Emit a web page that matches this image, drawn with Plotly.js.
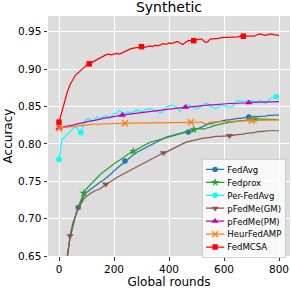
<!DOCTYPE html>
<html><head><meta charset="utf-8">
<script src="https://cdn.plot.ly/plotly-3.0.1.min.js"></script>
<style>html,body{margin:0;padding:0;background:#fff;} #chart{width:291px;height:289px;}</style>
</head><body><div id="chart"></div>
<script>
const rounds = [0,10,20,30,40,50,60,70,80,90,
100,110,120,130,140,150,160,170,180,190,
200,210,220,230,240,250,260,270,280,290,
300,310,320,330,340,350,360,370,380,390,
400,410,420,430,440,450,460,470,480,490,
500,510,520,530,540,550,560,570,580,590,
600,610,620,630,640,650,660,670,680,690,
700,710,720,730,740,750,760,770,780,790,
800];

const fedavg = [null,null,0.615,0.650,0.674,0.690,0.704,0.715,0.723,0.730,
0.735,0.738,0.741,0.743,0.746,0.749,0.751,0.754,0.756,0.760,
0.764,0.767,0.771,0.774,0.777,0.780,0.783,0.786,0.788,0.790,
0.792,0.794,0.796,0.798,0.800,0.802,0.804,0.806,0.808,0.809,
0.810,0.811,0.812,0.813,0.814,0.815,0.816,0.816,0.817,0.818,
0.820,0.821,0.823,0.825,0.826,0.827,0.828,0.829,0.829,0.830,
0.831,0.832,0.832,0.833,0.833,0.834,0.834,0.835,0.835,0.836,
0.836,0.836,0.836,0.837,0.837,0.837,0.838,0.838,0.838,0.8385,
0.8385];

const fedprox = [null,null,0.615,0.650,0.674,0.690,0.704,0.716,0.725,0.734,
0.740,0.744,0.748,0.752,0.756,0.759,0.762,0.765,0.768,0.771,
0.774,0.776,0.778,0.780,0.783,0.786,0.788,0.790,0.792,0.795,
0.797,0.799,0.801,0.802,0.803,0.804,0.805,0.806,0.808,0.809,
0.810,0.811,0.812,0.813,0.814,0.815,0.816,0.817,0.818,0.819,
0.8195,0.820,0.820,0.820,0.8215,0.822,0.824,0.825,0.826,0.827,
0.828,0.828,0.829,0.829,0.830,0.830,0.831,0.831,0.832,0.832,
0.832,0.833,0.833,0.833,0.833,0.833,0.833,0.833,0.833,0.8325,
0.8325];

const perfedavg = [0.779,0.805,0.809,0.813,0.816,0.820,0.823,0.819,0.815,0.828,
0.833,0.834,0.830,0.833,0.836,0.834,0.836,0.838,0.834,0.837,
0.840,0.841,0.845,0.842,0.841,0.843,0.841,0.843,0.845,0.844,
0.843,0.845,0.846,0.847,0.846,0.845,0.843,0.841,0.846,0.849,
0.851,0.852,0.850,0.849,0.843,0.849,0.851,0.852,0.850,0.849,
0.846,0.849,0.852,0.854,0.854,0.850,0.849,0.847,0.850,0.852,
0.851,0.850,0.849,0.850,0.854,0.858,0.857,0.857,0.856,0.857,
0.858,0.857,0.856,0.858,0.857,0.854,0.857,0.861,0.862,0.863,
0.864];

const pfedmeGM = [null,null,0.615,0.650,0.677,0.694,0.705,0.713,0.720,0.726,
0.730,0.733,0.735,0.737,0.738,0.740,0.743,0.746,0.748,0.750,
0.753,0.755,0.757,0.759,0.761,0.763,0.765,0.767,0.769,0.770,
0.772,0.774,0.776,0.778,0.780,0.782,0.784,0.786,0.788,0.789,
0.791,0.793,0.795,0.797,0.799,0.800,0.802,0.803,0.804,0.805,
0.806,0.807,0.807,0.808,0.808,0.809,0.809,0.810,0.810,0.810,
0.8105,0.811,0.811,0.811,0.812,0.812,0.813,0.813,0.814,0.814,
0.815,0.815,0.816,0.816,0.817,0.817,0.8175,0.8175,0.8175,0.8175,
0.8175];

const pfedmePM = [0.8215,0.822,0.8225,0.823,0.824,0.825,0.826,0.827,0.828,0.829,
0.8295,0.830,0.831,0.8315,0.832,0.833,0.834,0.8345,0.835,0.836,
0.8365,0.837,0.838,0.8385,0.839,0.8395,0.840,0.8405,0.841,0.8415,
0.842,0.8425,0.843,0.8435,0.844,0.8445,0.845,0.845,0.8455,0.846,
0.8465,0.847,0.847,0.8475,0.848,0.8485,0.849,0.849,0.8495,0.850,
0.850,0.8505,0.851,0.851,0.8515,0.852,0.852,0.8525,0.853,0.853,
0.8535,0.8535,0.854,0.854,0.854,0.8545,0.8545,0.855,0.855,0.855,
0.8555,0.8555,0.8555,0.856,0.856,0.856,0.856,0.8565,0.8565,0.8565,
0.8565];

const heurfedamp = [0.821,0.8215,0.822,0.8225,0.823,0.8235,0.824,0.8243,0.8246,0.825,
0.8253,0.8256,0.826,0.8262,0.8264,0.8266,0.8268,0.827,0.827,0.8272,
0.8273,0.8274,0.8275,0.8276,0.8277,0.8277,0.8278,0.8278,0.8279,0.8279,
0.828,0.828,0.828,0.828,0.8281,0.8282,0.8282,0.8283,0.8283,0.8284,
0.8284,0.8285,0.8285,0.8286,0.8286,0.8287,0.8287,0.8288,0.8288,0.8289,
0.8289,0.829,0.829,0.8268,0.827,0.829,0.8292,0.8294,0.8296,0.8298,
0.830,0.830,0.8302,0.8304,0.8305,0.8306,0.8307,0.8308,0.8309,0.831,
0.831,0.8312,0.8313,0.8314,0.8315,0.8316,0.8317,0.8318,0.8319,0.832,
0.832];

const fedmcsa = [0.829,0.843,0.857,0.869,0.879,0.886,0.892,0.895,0.899,0.902,
0.905,0.907,0.909,0.911,0.914,0.916,0.918,0.919,0.920,0.919,
0.920,0.921,0.920,0.922,0.924,0.926,0.927,0.928,0.928,0.929,
0.930,0.929,0.930,0.931,0.930,0.932,0.931,0.933,0.934,0.933,
0.935,0.934,0.936,0.937,0.935,0.933,0.936,0.938,0.938,0.938,
0.939,0.940,0.940,0.936,0.936,0.940,0.940,0.941,0.941,0.942,
0.942,0.942,0.943,0.942,0.943,0.943,0.944,0.944,0.943,0.944,
0.943,0.944,0.946,0.947,0.946,0.945,0.946,0.947,0.946,0.946,
0.945];

const fedavgMarks = [70,240,470,690];
const fedproxMarks = [90,270,490,710];
const perfedavgMarks = [0,80,790];
const gmMarks = [40,170,380,620];
const pmMarks = [0,230,460,690];
const heurMarks = [0,240,480,700];
const mcsaMarks = [0,110,300,490,670];

const xTicks = [0,200,400,600,800];
const yTicks = [0.65,0.70,0.75,0.80,0.85,0.90,0.95];

const series = [
  {name:'FedAvg', y:fedavg, marks:fedavgMarks, color:'#1f77b4', symbol:'circle', size:5.5},
  {name:'Fedprox', y:fedprox, marks:fedproxMarks, color:'#2ca02c', symbol:'star', size:6.5},
  {name:'Per-FedAvg', y:perfedavg, marks:perfedavgMarks, color:'#00ffff', symbol:'circle', size:5.5},
  {name:'pFedMe(GM)', y:pfedmeGM, marks:gmMarks, color:'#8c564b', symbol:'triangle-down', size:6.5},
  {name:'pFedMe(PM)', y:pfedmePM, marks:pmMarks, color:'#bf00bf', symbol:'triangle-up', size:6.5},
  {name:'HeurFedAMP', y:heurfedamp, marks:heurMarks, color:'#ff7f0e', symbol:'x-thin-open', size:6},
  {name:'FedMCSA', y:fedmcsa, marks:mcsaMarks, color:'#ff0000', symbol:'square', size:5.5}
];

const traces = [];
series.forEach(s => {
  const mk = {symbol:s.symbol, size:s.size, color:s.color,
    line:{width: s.symbol==='x-thin-open' ? 1.4 : 0, color:s.color}};
  traces.push({x:rounds, y:s.y, mode:'lines', line:{color:s.color, width:1.2},
    showlegend:false, hoverinfo:'skip', connectgaps:false});
  traces.push({x:s.marks, y:s.marks.map(r => s.y[rounds.indexOf(r)]), mode:'markers',
    marker:mk, showlegend:false, hoverinfo:'skip', cliponaxis:true});
  const lmk = {symbol:s.symbol, size:s.size*1.6, color:s.color,
    line:{width: s.symbol==='x-thin-open' ? 2.2 : 0, color:s.color}};
  traces.push({x:[null], y:[null], mode:'lines+markers', name:s.name,
    line:{color:s.color, width:2}, marker:lmk});
});

const layout = {
  width:291, height:289,
  margin:{l:48, r:1, t:16, b:33, pad:0, autoexpand:false},
  paper_bgcolor:'#ffffff', plot_bgcolor:'#dddddd',
  font:{family:'DejaVu Sans', size:10.5, color:'#000000'},
  title:{text:'Synthetic', font:{size:14, color:'#000000'}, x:0.5, xref:'paper',
    y:0.975, yref:'container', yanchor:'middle'},
  xaxis:{range:[-40,840], tickvals:xTicks, ticktext:xTicks.map(String), ticks:'outside',
    ticklen:3.5, tickwidth:1, tickcolor:'#333333', gridcolor:'#ffffff', gridwidth:1,
    showline:false, zeroline:false, automargin:false,
    title:{text:'Global rounds', font:{size:12}, standoff:2}},
  yaxis:{range:[0.65,0.971], tickvals:yTicks, ticktext:yTicks.map(v=>v.toFixed(2)), ticks:'outside',
    ticklen:3.5, tickwidth:1, tickcolor:'#333333', gridcolor:'#ffffff', gridwidth:1,
    showline:false, zeroline:false, automargin:false,
    title:{text:'Accuracy', font:{size:12}, standoff:2}},
  legend:{font:{size:14, family:'DejaVu Sans'}, bgcolor:'rgba(255,255,255,0.8)',
    bordercolor:'#cccccc', borderwidth:1.5, x:0.64, y:0.38, xanchor:'left', yanchor:'top',
    tracegroupgap:0, itemwidth:30},
  showlegend:true
};

Plotly.newPlot('chart', traces, layout, {staticPlot:true, displayModeBar:false}).then(gd => {
  const lg = gd.querySelector('g.legend');
  if (lg) lg.setAttribute('transform', 'translate(202,159) scale(0.61)');
});
</script>
</body></html>
